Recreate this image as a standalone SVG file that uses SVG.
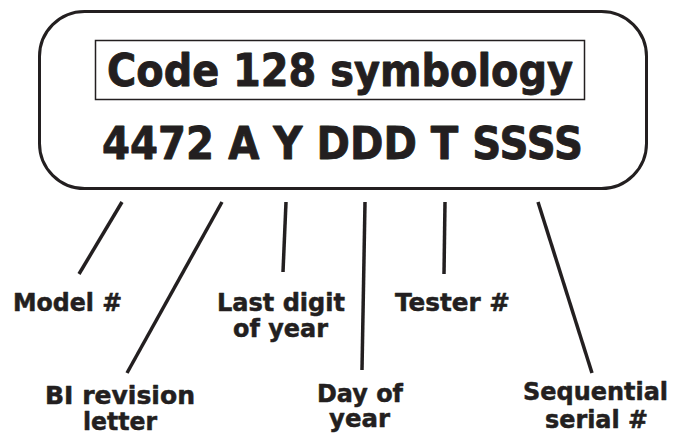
<svg xmlns="http://www.w3.org/2000/svg" width="689" height="436" viewBox="0 0 689 436">
<style>
.t{font-family:"DejaVu Sans","Verdana",sans-serif;font-weight:bold;fill:#231f20;stroke:#231f20;stroke-linejoin:round}
.big{font-size:44px;stroke-width:0.9}
.lbl{font-size:24px;stroke-width:0.5}
.ln{stroke:#231f20;stroke-width:3.5;stroke-linecap:butt;fill:none}
</style>
<rect width="689" height="436" fill="#ffffff"/>
<g id="code-box">
<rect x="39.5" y="11.5" width="607" height="177" rx="45" ry="45" fill="none" stroke="#231f20" stroke-width="3"/>
<rect x="95.5" y="40.5" width="489" height="59" fill="none" stroke="#231f20" stroke-width="1.5"/>
<text class="t big" x="107" y="86" textLength="466" lengthAdjust="spacingAndGlyphs">Code 128 symbology</text>
<text class="t big" x="102" y="159" textLength="481" lengthAdjust="spacingAndGlyphs">4472 A Y DDD T SSSS</text>
</g>
<g id="connectors">
<line class="ln" x1="122" y1="202" x2="79" y2="274"/>
<line class="ln" x1="222" y1="202" x2="127" y2="373"/>
<line class="ln" x1="286" y1="202" x2="283" y2="272"/>
<line class="ln" x1="365" y1="202" x2="362" y2="370"/>
<line class="ln" x1="445" y1="202" x2="444" y2="274"/>
<line class="ln" x1="538" y1="202" x2="592" y2="373"/>
</g>
<g id="label-model">
<text class="t lbl" x="13" y="311" textLength="109" lengthAdjust="spacingAndGlyphs">Model #</text>
</g>
<g id="label-bi">
<text class="t lbl" x="45" y="404" textLength="150" lengthAdjust="spacingAndGlyphs">BI revision</text>
<text class="t lbl" x="83" y="430" textLength="74" lengthAdjust="spacingAndGlyphs">letter</text>
</g>
<g id="label-lastdigit">
<text class="t lbl" x="217" y="311" textLength="128" lengthAdjust="spacingAndGlyphs">Last digit</text>
<text class="t lbl" x="233" y="337" textLength="95" lengthAdjust="spacingAndGlyphs">of year</text>
</g>
<g id="label-day">
<text class="t lbl" x="317" y="402" textLength="86" lengthAdjust="spacingAndGlyphs">Day of</text>
<text class="t lbl" x="329" y="427" textLength="61" lengthAdjust="spacingAndGlyphs">year</text>
</g>
<g id="label-tester">
<text class="t lbl" x="395" y="311" textLength="115" lengthAdjust="spacingAndGlyphs">Tester #</text>
</g>
<g id="label-seq">
<text class="t lbl" x="523" y="400" textLength="145" lengthAdjust="spacingAndGlyphs">Sequential</text>
<text class="t lbl" x="545" y="428" textLength="103" lengthAdjust="spacingAndGlyphs">serial #</text>
</g>
</svg>
